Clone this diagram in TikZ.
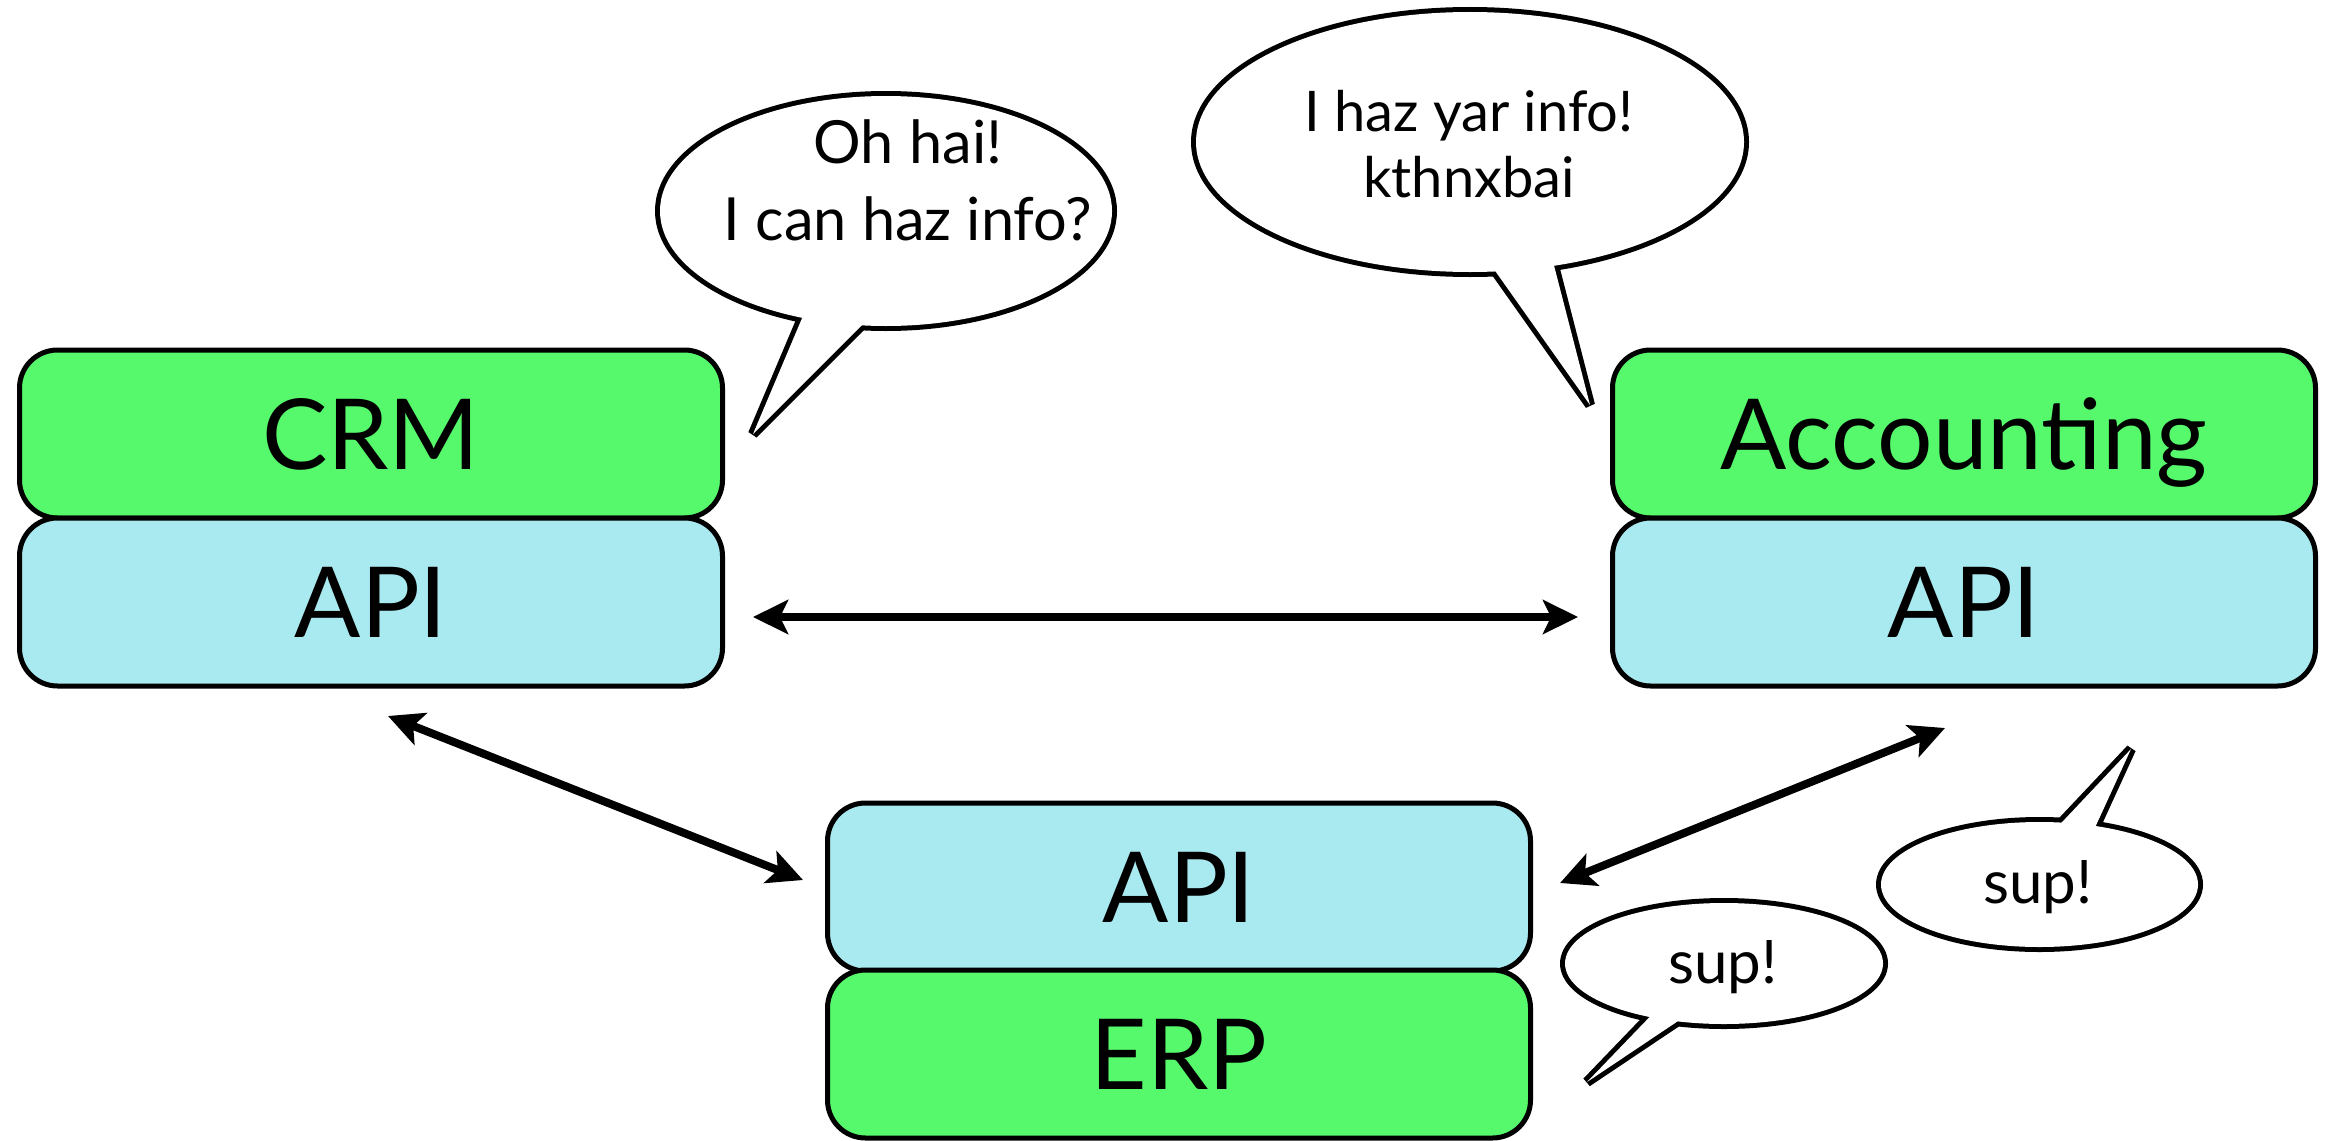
\documentclass[tikz,border=0pt]{standalone}
\usepackage{fontspec}
\setmainfont{Lato}
\usetikzlibrary{arrows.meta}
\definecolor{appgreen}{RGB}{85,249,107}
\definecolor{apiblue}{RGB}{169,233,240}
\tikzset{
  layertext/.style={inner sep=0pt, text height=70.5pt, text depth=0pt,
    font=\fontsize{98}{110}\selectfont},
  layer/.style={layertext, draw=black, line width=5pt, rounded corners=38pt,
    minimum width=703pt, minimum height=168pt},
  appbox/.style={layer, fill=appgreen},
  apibox/.style={layer, fill=apiblue},
  link/.style={line width=8pt,
    {Stealth[length=35pt,width=34pt,inset=8pt]}-{Stealth[length=35pt,width=34pt,inset=8pt]}},
  bubbleedge/.style={draw=black, line width=10pt, line join=bevel},
  bubblebody/.style={fill=white},
  saying/.style={align=center, inner sep=0pt, anchor=base},
  bigsaying/.style={saying, font=\fontsize{59.5}{77}\selectfont},
  midsaying/.style={saying, font=\fontsize{56}{66}\selectfont},
  smallsaying/.style={saying, font=\fontsize{60}{70}\selectfont},
}
\begin{document}
\begin{tikzpicture}[x=1pt,y=-1pt]
\useasboundingbox (0,0) rectangle (2325,1140);
\fill[white] (0,0) rectangle (2325,1140);

% system stacks
\node[appbox] (crm)    at (371,434)  {CRM};
\node[apibox] (crmapi) at (371,602)  {API};
\node[appbox] (acc)    at (1964,434) {Accounting};
\node[apibox] (accapi) at (1964,602) {API};
\node[apibox] (erpapi) at (1179,887) {API};
\node[appbox] (erp)    at (1179,1054) {ERP};

% connections between the APIs
\coordinate (h1) at (753,617);
\coordinate (h2) at (1578,617);
\coordinate (l1) at (388,716);
\coordinate (l2) at (803,880);
\coordinate (r1) at (1945,728);
\coordinate (r2) at (1560,883);
\draw[link] (h1) -- (h2);
\draw[link] (l1) -- (l2);
\draw[link] (r1) -- (r2);

% speech bubbles: outline of ellipse and tail, then white body on top
\path[bubbleedge] (886,211) ellipse [x radius=226pt, y radius=115pt];
\path[bubbleedge] (811,297) -- (753,434) -- (876,311) -- cycle;
\path[bubblebody] (886,211) ellipse [x radius=226pt, y radius=115pt];
\path[bubblebody] (811,297) -- (753,434) -- (876,311) -- cycle;

\path[bubbleedge] (1470,142) ellipse [x radius=274pt, y radius=130pt];
\path[bubbleedge] (1486,258) -- (1590,405) -- (1550,250) -- cycle;
\path[bubblebody] (1470,142) ellipse [x radius=274pt, y radius=130pt];
\path[bubblebody] (1486,258) -- (1590,405) -- (1550,250) -- cycle;

\path[bubbleedge] (2039.5,884.5) ellipse [x radius=158.5pt, y radius=62.5pt];
\path[bubbleedge] (2048,837) -- (2131,749) -- (2087,845) -- cycle;
\path[bubblebody] (2039.5,884.5) ellipse [x radius=158.5pt, y radius=62.5pt];
\path[bubblebody] (2048,837) -- (2131,749) -- (2087,845) -- cycle;

\path[bubbleedge] (1724,963.5) ellipse [x radius=159pt, y radius=60.5pt];
\path[bubbleedge] (1664,1002) -- (1587,1082) -- (1693,1011) -- cycle;
\path[bubblebody] (1724,963.5) ellipse [x radius=159pt, y radius=60.5pt];
\path[bubblebody] (1664,1002) -- (1587,1082) -- (1693,1011) -- cycle;

% what each system says (base anchor sits on the last line)
\node[bigsaying]   (ask)   at (908,240)  {Oh hai!\\I can haz info?};
\node[midsaying]   (reply) at (1469,197) {I haz yar info!\\kthnxbai};
\node[smallsaying] (sup1)  at (2038,903) {sup!};
\node[smallsaying] (sup2)  at (1723,983) {sup!};
\end{tikzpicture}
\end{document}
